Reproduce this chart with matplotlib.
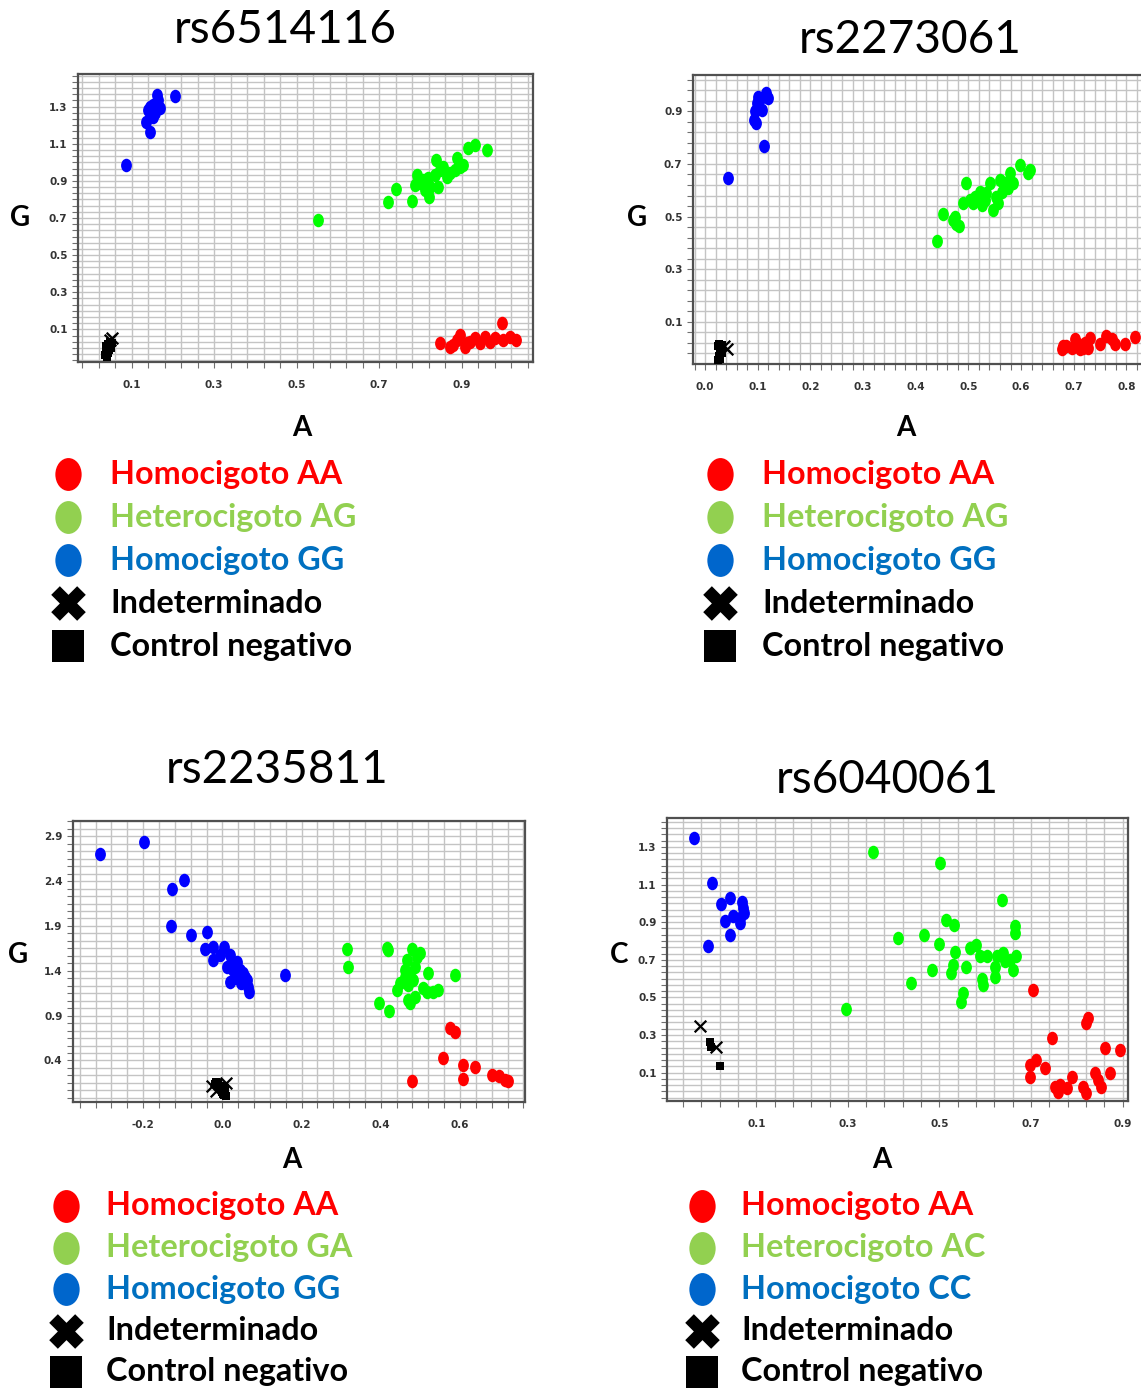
import numpy as np
import matplotlib
matplotlib.use('Agg')
import matplotlib.pyplot as plt
from matplotlib.path import Path
from matplotlib.transforms import Affine2D

# ---------------- datos ----------------
# rs6514116
p1_aa_x = [0.847, 0.872, 0.888, 0.896, 0.908, 0.920, 0.932, 0.944, 0.957, 0.969, 0.981, 0.997, 1.001, 1.017, 1.033, 0.880, 0.912]
p1_aa_y = [0.028, 0.007, 0.043, 0.070, 0.007, 0.034, 0.052, 0.025, 0.061, 0.034, 0.052, 0.133, 0.043, 0.061, 0.043, 0.015, 0.028]
p1_ab_x = [0.722, 0.741, 0.779, 0.822, 0.791, 0.807, 0.823, 0.839, 0.847, 0.843, 0.864, 0.888, 0.884, 0.904, 0.916, 0.932, 0.961, 0.872, 0.896, 0.799, 0.819, 0.835, 0.856, 0.553, 0.787, 0.811]
p1_ab_y = [0.788, 0.855, 0.794, 0.811, 0.932, 0.905, 0.869, 1.013, 0.959, 0.869, 0.923, 1.022, 0.959, 0.986, 1.076, 1.093, 1.067, 0.941, 0.977, 0.887, 0.914, 0.932, 0.977, 0.689, 0.878, 0.851]
p1_bb_x = [0.161, 0.165, 0.144, 0.153, 0.140, 0.157, 0.169, 0.136, 0.144, 0.086, 0.205, 0.161, 0.153]
p1_bb_y = [1.363, 1.336, 1.300, 1.309, 1.282, 1.264, 1.291, 1.219, 1.165, 0.986, 1.357, 1.318, 1.246]
p1_ind_x = [0.052, 0.048]
p1_ind_y = [0.055, 0.040]
p1_neg_x = [0.036, 0.038, 0.040, 0.042, 0.045, 0.048, 0.050, 0.043, 0.053, 0.038, 0.046, 0.040]
p1_neg_y = [-0.040, -0.020, 0.000, 0.020, 0.010, 0.030, 0.000, -0.030, 0.025, 0.010, -0.010, -0.050]

# rs2273061
p2_aa_x = [0.677, 0.686, 0.696, 0.702, 0.708, 0.718, 0.721, 0.730, 0.727, 0.749, 0.762, 0.772, 0.778, 0.797, 0.816, 0.680, 0.711]
p2_aa_y = [-0.004, 0.008, 0.002, 0.034, 0.015, 0.002, 0.021, 0.040, 0.002, 0.015, 0.047, 0.034, 0.015, 0.017, 0.043, 0.008, -0.004]
p2_ab_x = [0.440, 0.451, 0.474, 0.483, 0.490, 0.496, 0.503, 0.512, 0.522, 0.525, 0.534, 0.541, 0.547, 0.553, 0.557, 0.560, 0.569, 0.579, 0.585, 0.575, 0.598, 0.613, 0.617, 0.477, 0.509, 0.531, 0.563, 0.471]
p2_ab_y = [0.407, 0.511, 0.499, 0.463, 0.550, 0.626, 0.562, 0.575, 0.594, 0.543, 0.588, 0.626, 0.524, 0.575, 0.550, 0.639, 0.626, 0.664, 0.626, 0.607, 0.696, 0.664, 0.677, 0.473, 0.550, 0.562, 0.594, 0.486]
p2_bb_x = [0.101, 0.116, 0.120, 0.098, 0.108, 0.095, 0.092, 0.097, 0.111, 0.044, 0.104]
p2_bb_y = [0.955, 0.970, 0.951, 0.932, 0.906, 0.900, 0.868, 0.855, 0.769, 0.645, 0.945]
p2_ind_x = [0.041, 0.036]
p2_ind_y = [-0.004, 0.010]
p2_neg_x = [0.024, 0.026, 0.028, 0.030, 0.032, 0.025, 0.029, 0.033, 0.027]
p2_neg_y = [-0.045, -0.030, -0.015, 0.000, 0.012, 0.010, -0.040, -0.020, 0.015]

# rs2235811
p3_aa_x = [0.575, 0.587, 0.556, 0.607, 0.638, 0.608, 0.478, 0.680, 0.699, 0.714, 0.722]
p3_aa_y = [0.760, 0.723, 0.426, 0.352, 0.326, 0.192, 0.166, 0.240, 0.229, 0.177, 0.166]
p3_ab_x = [0.314, 0.318, 0.415, 0.419, 0.478, 0.491, 0.465, 0.461, 0.474, 0.486, 0.520, 0.587, 0.448, 0.440, 0.469, 0.482, 0.507, 0.516, 0.533, 0.545, 0.396, 0.421, 0.469, 0.474, 0.486, 0.461, 0.499]
p3_ab_y = [1.639, 1.439, 1.650, 1.631, 1.639, 1.557, 1.520, 1.409, 1.372, 1.446, 1.379, 1.353, 1.261, 1.186, 1.242, 1.298, 1.205, 1.168, 1.168, 1.186, 1.045, 0.956, 1.075, 1.038, 1.112, 1.335, 1.594]
p3_bb_x = [-0.309, -0.198, -0.097, -0.126, -0.130, -0.080, -0.040, -0.043, -0.023, -0.023, 0.005, -0.006, 0.019, 0.023, 0.036, 0.027, 0.044, 0.040, 0.053, 0.019, 0.048, 0.061, 0.065, 0.068, 0.158, 0.011, 0.032, 0.057]
p3_bb_y = [2.707, 2.837, 2.410, 2.310, 1.902, 1.798, 1.828, 1.639, 1.669, 1.520, 1.661, 1.576, 1.576, 1.483, 1.502, 1.409, 1.409, 1.335, 1.372, 1.279, 1.261, 1.298, 1.224, 1.168, 1.353, 1.446, 1.316, 1.335]
p3_ind_x = [-0.025, 0.010, -0.015]
p3_ind_y = [0.120, 0.150, 0.060]
p3_neg_x = [-0.018, -0.012, -0.006, 0.000, 0.004, 0.008, -0.010, -0.002, 0.006, 0.002, -0.015]
p3_neg_y = [0.140, 0.110, 0.080, 0.050, 0.020, 0.000, 0.150, 0.120, 0.090, 0.030, 0.160]

# rs6040061
p4_aa_x = [0.705, 0.747, 0.821, 0.825, 0.861, 0.894, 0.697, 0.712, 0.730, 0.697, 0.752, 0.763, 0.778, 0.789, 0.814, 0.821, 0.840, 0.847, 0.854, 0.872, 0.759]
p4_aa_y = [0.540, 0.283, 0.363, 0.389, 0.233, 0.221, 0.141, 0.167, 0.123, 0.079, 0.025, 0.034, 0.017, 0.079, 0.025, -0.010, 0.096, 0.061, 0.025, 0.096, -0.001]
p4_ab_x = [0.356, 0.502, 0.637, 0.295, 0.410, 0.466, 0.499, 0.514, 0.532, 0.534, 0.566, 0.581, 0.588, 0.603, 0.621, 0.625, 0.639, 0.654, 0.665, 0.665, 0.668, 0.661, 0.559, 0.530, 0.525, 0.483, 0.439, 0.592, 0.595, 0.621, 0.552, 0.548, 0.643]
p4_ab_y = [1.272, 1.215, 1.020, 0.439, 0.815, 0.833, 0.785, 0.913, 0.886, 0.744, 0.762, 0.780, 0.718, 0.718, 0.664, 0.718, 0.735, 0.700, 0.877, 0.842, 0.718, 0.647, 0.664, 0.673, 0.629, 0.647, 0.579, 0.597, 0.567, 0.611, 0.522, 0.473, 0.691]
p4_bb_x = [-0.035, 0.004, 0.022, 0.043, 0.069, 0.031, 0.049, 0.064, 0.074, 0.064, 0.043, -0.006, 0.071]
p4_bb_y = [1.348, 1.108, 0.998, 1.028, 1.005, 0.904, 0.931, 0.922, 0.948, 0.895, 0.833, 0.771, 0.975]
p4_ind_x = [-0.024, 0.011]
p4_ind_y = [0.348, 0.235]
p4_neg_x = [0.000, 0.002, 0.020]
p4_neg_y = [0.265, 0.238, 0.135]

titulos = ['rs6514116', 'rs2273061', 'rs2235811', 'rs6040061']
eje_y = ['G', 'G', 'G', 'C']
eje_x = ['A', 'A', 'A', 'A']
leyendas = [
    ['Homocigoto AA', 'Heterocigoto AG', 'Homocigoto GG', 'Indeterminado', 'Control negativo'],
    ['Homocigoto AA', 'Heterocigoto AG', 'Homocigoto GG', 'Indeterminado', 'Control negativo'],
    ['Homocigoto AA', 'Heterocigoto GA', 'Homocigoto GG', 'Indeterminado', 'Control negativo'],
    ['Homocigoto AA', 'Heterocigoto AC', 'Homocigoto CC', 'Indeterminado', 'Control negativo'],
]

# ---------------- estilo ----------------
W, H = 1141, 1388
fig = plt.figure(figsize=(W / 100, H / 100), dpi=100)
fig.patch.set_facecolor('white')

elipse = Path.unit_circle().transformed(Affine2D().scale(0.8, 1.0))

def px_box(x0, y0, x1, y1):
    return [x0 / W, 1 - y1 / H, (x1 - x0) / W, (y1 - y0) / H]

paneles = [
    dict(box=px_box(78, 74, 533, 362), xlim=(-0.03, 1.073), ylim=(-0.076, 1.476),
         xt=np.arange(0.1, 0.95, 0.2), yt=np.arange(0.1, 1.35, 0.2), xg=0.04, yg=0.2 / 6, fmt='%.1f',
         datos=(p1_aa_x, p1_aa_y, p1_ab_x, p1_ab_y, p1_bb_x, p1_bb_y, p1_ind_x, p1_ind_y, p1_neg_x, p1_neg_y)),
    dict(box=px_box(693, 75, 1158, 364), xlim=(-0.023, 0.86), ylim=(-0.06, 1.038),
         xt=np.arange(0.0, 0.85, 0.1), yt=np.arange(0.1, 0.95, 0.2), xg=0.02, yg=0.04, fmt='%.1f',
         datos=(p2_aa_x, p2_aa_y, p2_ab_x, p2_ab_y, p2_bb_x, p2_bb_y, p2_ind_x, p2_ind_y, p2_neg_x, p2_neg_y)),
    dict(box=px_box(73, 821, 525, 1102), xlim=(-0.377, 0.764), ylim=(-0.063, 3.07),
         xt=np.arange(-0.2, 0.65, 0.2), yt=np.arange(0.4, 2.95, 0.5), xg=0.04, yg=0.5 / 6, fmt='%.1f',
         datos=(p3_aa_x, p3_aa_y, p3_ab_x, p3_ab_y, p3_bb_x, p3_bb_y, p3_ind_x, p3_ind_y, p3_neg_x, p3_neg_y)),
    dict(box=px_box(667, 818, 1128, 1101), xlim=(-0.095, 0.912), ylim=(-0.051, 1.454),
         xt=np.arange(0.1, 0.95, 0.2), yt=np.arange(0.1, 1.35, 0.2), xg=0.04, yg=0.2 / 6, fmt='%.1f',
         datos=(p4_aa_x, p4_aa_y, p4_ab_x, p4_ab_y, p4_bb_x, p4_bb_y, p4_ind_x, p4_ind_y, p4_neg_x, p4_neg_y)),
]

for p in paneles:
    ax = fig.add_axes(p['box'])
    ax.set_xlim(*p['xlim'])
    ax.set_ylim(*p['ylim'])
    x0 = p['xt'][0]
    gx = np.concatenate([np.arange(x0, p['xlim'][0], -p['xg']), np.arange(x0, p['xlim'][1], p['xg'])])
    y0 = p['yt'][0]
    gy = np.concatenate([np.arange(y0, p['ylim'][0], -p['yg']), np.arange(y0, p['ylim'][1], p['yg'])])
    ax.set_xticks(gx, minor=True)
    ax.set_yticks(gy, minor=True)
    ax.set_xticks(p['xt'])
    ax.set_yticks(p['yt'])
    ax.set_xticklabels([p['fmt'] % v for v in p['xt']])
    ax.set_yticklabels([p['fmt'] % v for v in p['yt']])
    ax.grid(True, which='both', color='#c4c4c4', lw=1.0)
    ax.set_axisbelow(True)
    ax.tick_params(which='both', direction='out', length=4, width=0.8, color='#707070',
                   labelsize=7.5, labelcolor='#333333')
    ax.tick_params(axis='x', pad=9)
    for lab in ax.get_xticklabels() + ax.get_yticklabels():
        lab.set_family('Liberation Sans Narrow')
        lab.set_fontweight('bold')
    for s in ax.spines.values():
        s.set_color('#505050')
        s.set_linewidth(1.6)

    aa_x, aa_y, ab_x, ab_y, bb_x, bb_y, ind_x, ind_y, neg_x, neg_y = p['datos']
    ax.scatter(bb_x, bb_y, s=95, marker=elipse, color='#0000ff', lw=0, zorder=3)
    ax.scatter(ab_x, ab_y, s=95, marker=elipse, color='#00ff00', lw=0, zorder=3)
    ax.scatter(aa_x, aa_y, s=95, marker=elipse, color='#ff0000', lw=0, zorder=3)
    ax.scatter(neg_x, neg_y, s=30, marker='s', color='black', lw=0, zorder=4)
    ax.scatter(ind_x, ind_y, s=70, marker='x', color='black', lw=1.6, zorder=4)

# capa de textos y leyendas (en pixeles)
ov = fig.add_axes([0, 0, 1, 1])
ov.set_xlim(0, W)
ov.set_ylim(H, 0)
ov.axis('off')
ov.patch.set_alpha(0)

pos_titulo = [(285, 30), (910, 40), (277, 770), (887, 780)]
pos_ejey = [(20, 218), (637, 218), (18, 955), (619, 955)]
pos_ejex = [(302, 428), (906, 428), (292, 1160), (882, 1160)]
pos_ley = [(68, 110, 474), (720, 762, 474), (66, 106, 1206), (702, 741, 1206)]
paso_ley = [43, 43, 41.5, 41.5]

col_txt = ['#ff0000', '#92d050', '#0070c0', 'black', 'black']
col_mk = ['#ff0000', '#92d050', '#0066cc', 'black', 'black']
mk = [elipse, elipse, elipse, 'X', 's']
tam = [560, 560, 560, 620, 500]

for i in range(4):
    ov.text(*pos_titulo[i], titulos[i], ha='center', va='center', fontsize=33, family='Lato')
    ov.text(*pos_ejey[i], eje_y[i], ha='center', va='center', fontsize=20, family='Lato', fontweight='bold')
    ov.text(*pos_ejex[i], eje_x[i], ha='center', va='center', fontsize=20, family='Lato', fontweight='bold')
    mx, tx, y0 = pos_ley[i]
    for j, lab in enumerate(leyendas[i]):
        y = y0 + j * paso_ley[i]
        ov.scatter([mx], [y], s=tam[j], marker=mk[j], color=col_mk[j], lw=0)
        ov.text(tx, y, lab, ha='left', va='center', fontsize=23.3, family='Lato',
                fontweight='bold', color=col_txt[j])

fig.savefig('out.png', dpi=100)
